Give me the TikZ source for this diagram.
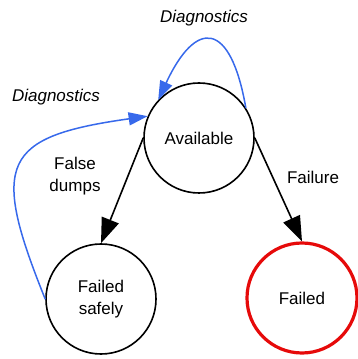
\documentclass[tikz,border=0pt]{standalone}
\usepackage{fontspec}
\setmainfont{Liberation Sans}
\usetikzlibrary{arrows.meta}

\begin{document}
\begin{tikzpicture}
			[x=10pt,y=10pt,line cap=round,
			%Styles
			state/.style={circle,draw,line width=1.6pt,minimum size=110pt,inner sep=0pt,align=center,font=\fontsize{17}{22}\selectfont},
			failed state/.style={state,draw=failred,line width=3.2pt},
			transition/.style={line width=1.6pt,-{Triangle[length=25pt,width=18pt]}},
			diagnostic/.style={draw=diagblue,line width=1.5pt,-{Triangle[length=19pt,width=13pt,fill=diagblue]}},
			label text/.style={align=center,font=\fontsize{17}{22}\selectfont},
			diag text/.style={font=\fontsize{17}{22}\selectfont\itshape}
			]
			
			%Colors
			\definecolor{diagblue}{RGB}{55,105,235}	%diagnostics loops
			\definecolor{failred}{RGB}{230,10,10}
			
			\useasboundingbox (0,0) rectangle (35.7,35.9);
			
			%The graphic
			\node[state] (available) at (19.9,22.1) {Available};
			\node[state] (safe) at (10.1,6.0) {Failed\\safely};
			\node[failed state] (failed) at (30.2,6.1) {Failed};
			
			\draw[transition] (available.west) -- (safe.north);
			\draw[transition] (available.east) -- (failed.north);
			
			\draw[diagnostic] (available.33) to[out=100,in=65,looseness=2.6] (available.137);
			\draw[diagnostic] (safe.west) to[out=112,in=188,looseness=1.8] (available.157);
			
			\node[diag text] (diagtop) at (20.4,34.1) {Diagnostics};
			\node[diag text] (diagleft) at (5.6,26.2) {Diagnostics};
			\node[label text] (dumps) at (7.5,18.3) {False\\dumps};
			\node[label text] (failure) at (31.3,18.2) {Failure};
\end{tikzpicture}
\end{document}
